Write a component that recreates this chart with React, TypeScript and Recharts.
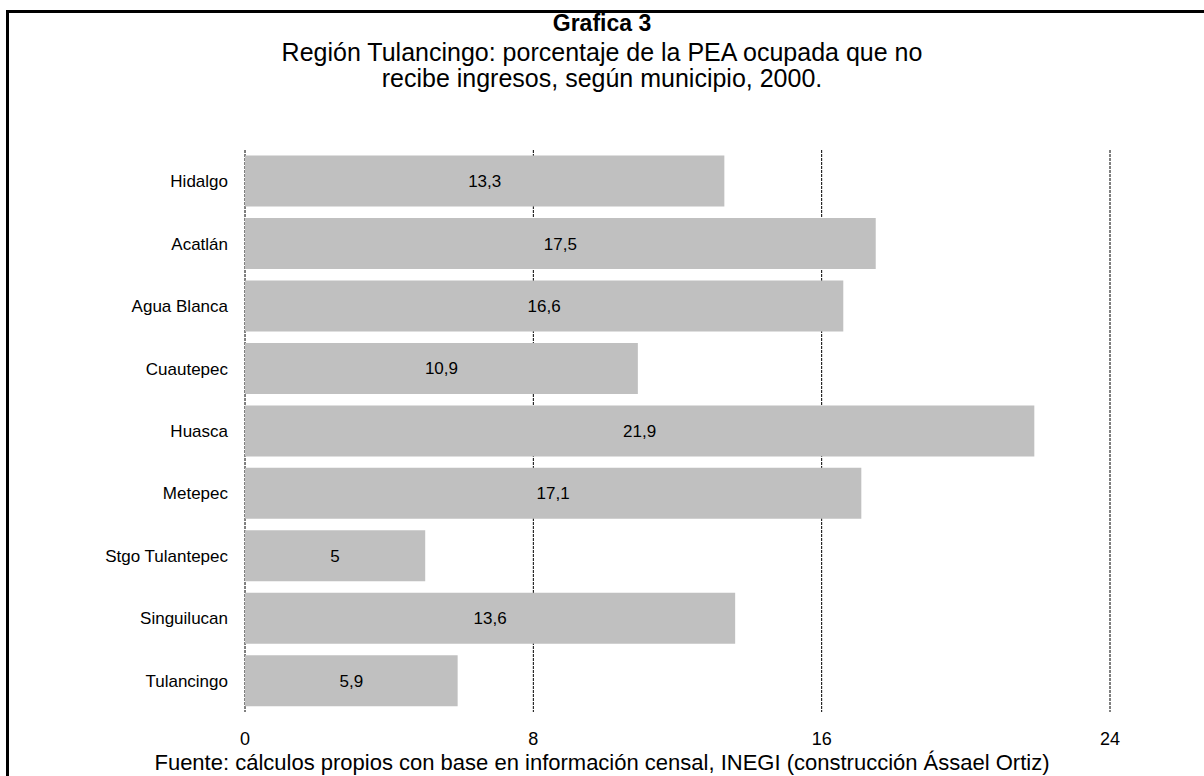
import React from "react";
import { BarChart, Bar, XAxis, YAxis, CartesianGrid, LabelList } from "recharts";

const municipios = [
  "Hidalgo", "Acatlán", "Agua Blanca", "Cuautepec", "Huasca",
  "Metepec", "Stgo Tulantepec", "Singuilucan", "Tulancingo",
];
const porcentajes = [13.3, 17.5, 16.6, 10.9, 21.9, 17.1, 5, 13.6, 5.9];
const ticksX = [0, 8, 16, 24];

const data = municipios.map((m, i) => ({ municipio: m, valor: porcentajes[i] }));

const FONT = "'Liberation Sans', Arial, sans-serif";

export default function App() {
  return (
    <div style={{ position: "fixed", left: 0, top: 0, width: 1204, height: 776, overflow: "hidden", background: "#fff", fontFamily: FONT }}>
      {/* marco */}
      <div style={{ position: "absolute", left: 6, top: 10, width: 1300, height: 900, border: "3px solid #000", boxSizing: "border-box" }} />
      <div style={{ position: "absolute", left: 0, width: 1204, top: 10, lineHeight: "26px", textAlign: "center", fontSize: 23, fontWeight: "bold", color: "#000" }}>
        Grafica 3
      </div>
      <div style={{ position: "absolute", left: 0, width: 1204, top: 39, textAlign: "center", fontSize: 25, lineHeight: "26px", color: "#000" }}>
        Región Tulancingo: porcentaje de la PEA ocupada que no<br />
        recibe ingresos, según municipio, 2000.
      </div>
      <div style={{ position: "absolute", left: 0, top: 0 }}>
        <BarChart
          width={1204}
          height={776}
          data={data}
          layout="vertical"
          margin={{ top: 150, right: 94, bottom: 24, left: 0 }}
          barCategoryGap="9%"
        >
          <CartesianGrid horizontal={false} vertical stroke="#000" strokeDasharray="3 1" />
          <XAxis
            type="number"
            domain={[0, 24]}
            ticks={ticksX}
            axisLine={false}
            tickLine={false}
            tickSize={0}
            tickMargin={20}
            height={40}
            tick={{ fontSize: 18, fill: "#000", fontFamily: FONT }}
          />
          <YAxis
            type="category"
            dataKey="municipio"
            width={245}
            axisLine={false}
            tickLine={false}
            tickSize={0}
            tickMargin={17}
            tick={{ fontSize: 17, fill: "#000", fontFamily: FONT }}
          />
          <Bar dataKey="valor" fill="#c0c0c0" isAnimationActive={false}>
            <LabelList
              dataKey="valor"
              position="center"
              formatter={(v: any) => String(v).replace(".", ",")}
              style={{ fontSize: 17, fill: "#000", fontFamily: FONT }}
            />
          </Bar>
        </BarChart>
      </div>
      <div style={{ position: "absolute", left: 0, width: 1204, top: 752, lineHeight: "22px", textAlign: "center", fontSize: 22, color: "#000", whiteSpace: "nowrap" }}>
        Fuente: cálculos propios con base en información censal, INEGI (construcción Ássael Ortiz)
      </div>
    </div>
  );
}
